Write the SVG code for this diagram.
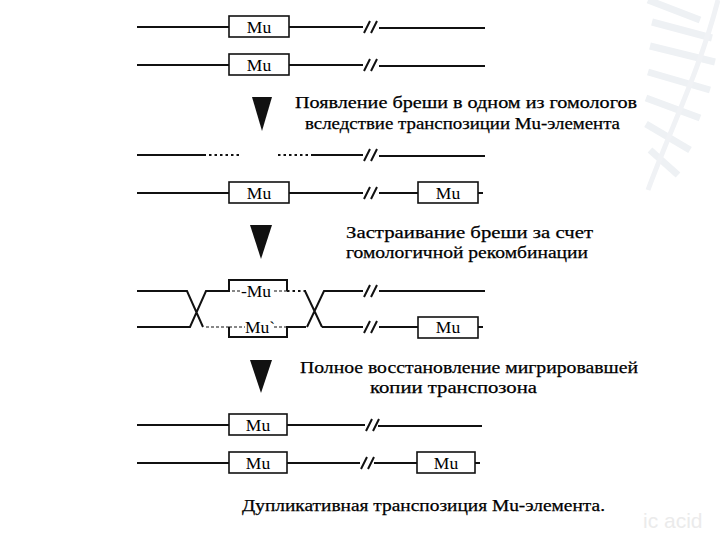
<svg xmlns="http://www.w3.org/2000/svg" xmlns:xlink="http://www.w3.org/1999/xlink" width="720" height="540" viewBox="0 0 720 540">
<style>
.ln{stroke:#111;stroke-width:2;fill:none}
.box{stroke:#111;stroke-width:1.6;fill:#fff}
.dot{stroke:#111;stroke-width:2.2;fill:none;stroke-dasharray:2.5 3}
.dsh{stroke:#111;stroke-width:1.2;fill:none;stroke-dasharray:3 2}
.mu{font-family:"Liberation Serif","DejaVu Serif",serif;font-size:17.5px;fill:#000;text-anchor:middle}
.cap{font-family:"Liberation Serif","DejaVu Serif",serif;font-size:17px;fill:#000;stroke:#000;stroke-width:0.25}
.arr{fill:#111}
.wm{fill:none;stroke:#eef1f4;stroke-width:7}
</style>
<defs>
<path id="brk" d="M-7,6 L-1,-6 M0,6 L6,-6" style="stroke:#111;stroke-width:2;fill:none"/>
</defs>
<rect width="720" height="540" fill="#fff"/>
<g id="watermark">
<path class="wm" d="M648,0 L700,20 M652,22 L712,38 M650,46 L715,62 M648,72 L710,90 M646,98 L700,118 M646,124 L690,150 M650,150 L678,175"/>
<path d="M718,0 C700,70 670,130 648,190" style="fill:none;stroke:#f0f2f5;stroke-width:5"/>
<text x="643" y="528" style="font-family:'Liberation Sans',Arial,sans-serif;font-size:21px;fill:#ebebeb">ic acid</text>
</g>
<g id="connectors">
<polygon class="arr" points="252,97 272,97 262,131"/>
<polygon class="arr" points="250,225 272,225 261,259"/>
<polygon class="arr" points="250,360 272,360 261,393"/>
</g>
<g id="row1">
<path class="ln" d="M137,27 H229 M289,27 H363 M379,28 H485"/>
<use xlink:href="#brk" x="371" y="27"/>
<rect class="box" x="229" y="16" width="60" height="21"/>
<text class="mu" x="259" y="32.5">Mu</text>
</g>
<g id="row2">
<path class="ln" d="M137,65 H229 M289,65 H363 M379,66 H485"/>
<use xlink:href="#brk" x="371" y="65"/>
<rect class="box" x="229" y="54" width="60" height="21"/>
<text class="mu" x="259" y="70.5">Mu</text>
</g>
<g id="caption1">
<text class="cap" x="295" y="108" textLength="342" lengthAdjust="spacingAndGlyphs">Появление бреши в одном из гомологов</text>
<text class="cap" x="305" y="129" textLength="315" lengthAdjust="spacingAndGlyphs">вследствие транспозиции Mu-элемента</text>
</g>
<g id="row3">
<path class="ln" d="M137,155 H206 M311,155 H363 M379,156 H485"/>
<path class="dot" d="M209,155 H242 M278,155 H311"/>
<use xlink:href="#brk" x="371" y="155"/>
</g>
<g id="row4">
<path class="ln" d="M137,193 H229 M289,193 H363 M379,193 H418 M478,193 H483"/>
<use xlink:href="#brk" x="371" y="193"/>
<rect class="box" x="229" y="182" width="60" height="21"/>
<text class="mu" x="259" y="198.5">Mu</text>
<rect class="box" x="418" y="182" width="60" height="21"/>
<text class="mu" x="448" y="198.5">Mu</text>
</g>
<g id="caption2">
<text class="cap" x="346" y="238" textLength="247" lengthAdjust="spacingAndGlyphs">Застраивание бреши за счет</text>
<text class="cap" x="346" y="258" textLength="242" lengthAdjust="spacingAndGlyphs">гомологичной рекомбинации</text>
</g>
<g id="row5">
<path class="ln" d="M137,291 H187 L203,327 M137,327 H190 L206,291 H229 V280 H287 V291"/>
<path class="dsh" d="M232,291 H241 M274,291 H287"/>
<path class="dot" d="M287,291 H306"/>
<path class="dsh" d="M206,327 H229 M229,327 H245 M274,327 H287"/>
<path class="ln" d="M229,327 V337 H287 V327 H306"/>
<path class="ln" d="M305,291 L322,327 M307,327 L324,291 H363 M379,291 H485 M322,327 H363 M379,327 H418 M478,327 H483"/>
<use xlink:href="#brk" x="371" y="291"/>
<use xlink:href="#brk" x="371" y="327"/>
<text class="mu" x="256" y="297">-Mu</text>
<text class="mu" x="260" y="333">Mu`</text>
<rect class="box" x="418" y="317" width="60" height="21"/>
<text class="mu" x="448" y="333">Mu</text>
</g>
<g id="caption3">
<text class="cap" x="300" y="373" textLength="338" lengthAdjust="spacingAndGlyphs">Полное восстановление мигрировавшей</text>
<text class="cap" x="370" y="393" textLength="167" lengthAdjust="spacingAndGlyphs">копии транспозона</text>
</g>
<g id="row6">
<path class="ln" d="M137,425 H229 M287,425 H365 M378,426 H482"/>
<use xlink:href="#brk" x="373" y="425"/>
<rect class="box" x="229" y="414" width="58" height="21"/>
<text class="mu" x="258" y="430.5">Mu</text>
</g>
<g id="row7">
<path class="ln" d="M137,463 H229 M287,463 H360 M374,463 H417 M475,463 H480"/>
<use xlink:href="#brk" x="368" y="463"/>
<rect class="box" x="229" y="452" width="58" height="21"/>
<text class="mu" x="258" y="468.5">Mu</text>
<rect class="box" x="417" y="452" width="58" height="21"/>
<text class="mu" x="446" y="468.5">Mu</text>
</g>
<g id="caption4">
<text class="cap" x="242" y="511" textLength="363" lengthAdjust="spacingAndGlyphs">Дупликативная транспозиция Mu-элемента.</text>
</g>
</svg>
